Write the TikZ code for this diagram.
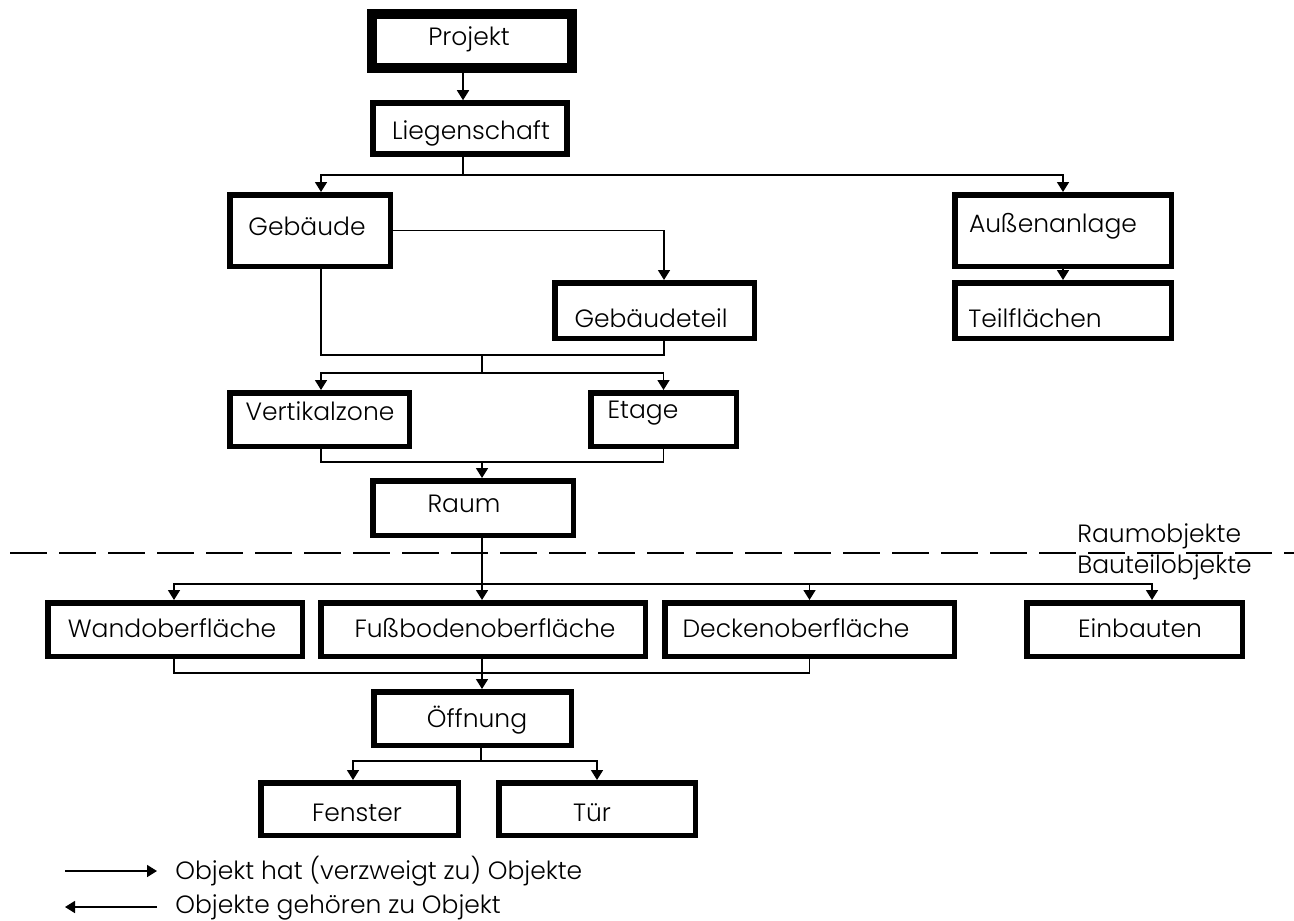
\documentclass[tikz,border=0pt]{standalone}
\usepackage{fontspec}
\setmainfont{Poppins Light}
\usetikzlibrary{arrows.meta}
\tikzset{
  box/.style={draw, line width=2.75pt, inner sep=0pt, rectangle},
  mainbox/.style={draw, line width=5pt, inner sep=0pt, rectangle},
  txt/.style={inner sep=0pt, font=\fontsize{12.5}{15}\selectfont},
  conn/.style={line width=0.8pt},
  arr/.style={line width=0.8pt, -{Triangle[width=6pt,length=5pt]}},
  sepline/.style={line width=1pt, dash pattern=on 18.5pt off 6pt},
}

\begin{document}
\begin{tikzpicture}[x=0.5pt, y=-0.5pt]
    \useasboundingbox (0,0) rectangle (1294,920);
    % boxes
    \node[mainbox, minimum width=100pt, minimum height=27pt](proj)at(472,41){};
    \node[box, minimum width=97pt, minimum height=25.5pt](lieg)at(470,128.5){};
    \node[box, minimum width=80.25pt, minimum height=35.75pt](geb)at(310,230.5){};
    \node[box, minimum width=99.75pt, minimum height=27.75pt](gebt)at(654.5,310.5){};
    \node[box, minimum width=108.25pt, minimum height=35.75pt](auss)at(1063,230.5){};
    \node[box, minimum width=108.25pt, minimum height=27.75pt](teil)at(1063,310.5){};
    \node[box, minimum width=89.75pt, minimum height=26.75pt](vert)at(319.5,419.5){};
    \node[box, minimum width=72.75pt, minimum height=26.75pt](etage)at(663.5,419.5){};
    \node[box, minimum width=100.25pt, minimum height=27.25pt](raum)at(473,508){};
    \node[box, minimum width=127.25pt, minimum height=26.75pt](wand)at(175,629.5){};
    \node[box, minimum width=162.25pt, minimum height=26.75pt](fuss)at(483,629.5){};
    \node[box, minimum width=144.75pt, minimum height=26.75pt](decke)at(809.5,629.5){};
    \node[box, minimum width=107.75pt, minimum height=26.75pt](einb)at(1134.5,629.5){};
    \node[box, minimum width=98.75pt, minimum height=26.75pt](oeff)at(472.5,718.5){};
    \node[box, minimum width=98.75pt, minimum height=26.25pt](fen)at(359.5,809){};
    \node[box, minimum width=98.25pt, minimum height=26.25pt](tuer)at(597,809){};
    % texts
    \node[txt](projT)at(469,39){Projekt};
    \node[txt](liegT)at(471,133){Liegenschaft};
    \node[txt](gebT)at(307,226){Gebäude};
    \node[txt](gebtT)at(651,318){Gebäudeteil};
    \node[txt](aussT)at(1053,226){Außenanlage};
    \node[txt, anchor=west](teilT)at(968,318){Teilflächen};
    \node[txt](vertT)at(320,411){Vertikalzone};
    \node[txt](etageT)at(643,413){Etage};
    \node[txt](raumT)at(464,504){Raum};
    \node[txt](wandT)at(172,628){Wandoberfläche};
    \node[txt](fussT)at(485,628){Fußbodenoberfläche};
    \node[txt](deckeT)at(796,628){Deckenoberfläche};
    \node[txt](einbT)at(1140,628){Einbauten};
    \node[txt](oeffT)at(477,720){Öffnung};
    \node[txt](fenT)at(357,813){Fenster};
    \node[txt](tuerT)at(592,813){Tür};
    % separation
    \draw[sepline](10,553)--(1294,553);
    \node[txt, anchor=west](obenT)at(1077,536){Raumobjekte};
    \node[txt, anchor=west](untenT)at(1077,567){Bauteilobjekte};
    % connectors
    \coordinate(b1)at(463,175);
    \coordinate(b2)at(482,355);
    \coordinate(b3)at(482,373);
    \coordinate(b4)at(482,462);
    \coordinate(b5)at(482,584);
    \coordinate(b6)at(482,673);
    \coordinate(b7)at(481,761);
    \draw[arr](proj.south -| b1)--(lieg.north -| b1);
    \draw[conn](lieg.south -| b1)--(b1);
    \draw[arr](b1)-|([xshift=5.5pt]geb.north);
    \draw[arr](b1)-|(auss.north);
    \draw[arr](auss.south)--(teil.north);
    \draw[arr](geb.east)-|([xshift=4.75pt]gebt.north);
    \draw[conn]([xshift=5.5pt]geb.south)|-(b2)-|([xshift=4.75pt]gebt.south);
    \draw[conn](b2)--(b3);
    \draw[arr](b3)-|([xshift=0.75pt]vert.north);
    \draw[arr](b3)-|(etage.north);
    \draw[conn]([xshift=0.75pt]vert.south)|-(b4)-|(etage.south);
    \draw[arr](b4)--(raum.north -| b4);
    \draw[conn](raum.south -| b5)--(b5);
    \draw[arr](b5)-|([xshift=-0.5pt]wand.north);
    \draw[arr](b5)--(fuss.north -| b5);
    \draw[arr](b5)-|(decke.north);
    \draw[arr](b5)-|([xshift=8.75pt]einb.north);
    \draw[conn]([xshift=-0.5pt]wand.south)|-(b6)-|(decke.south);
    \draw[conn](fuss.south -| b6)--(b6);
    \draw[arr](b6)--(oeff.north -| b6);
    \draw[conn](oeff.south -| b7)--(b7);
    \draw[arr](b7)-|([xshift=-3.25pt]fen.north);
    \draw[arr](b7)-|(tuer.north);
    % legend
    \coordinate(l1a)at(65,871);
    \coordinate(l1b)at(157,871);
    \coordinate(l2a)at(65,907);
    \coordinate(l2b)at(157,907);
    \draw[arr](l1a)--(l1b);
    \draw[arr](l2b)--(l2a);
    \node[txt, anchor=west](leg1)at(175,871){Objekt hat (verzweigt zu) Objekte};
    \node[txt, anchor=west](leg2)at(175,907){Objekte gehören zu Objekt};
\end{tikzpicture}
\end{document}
